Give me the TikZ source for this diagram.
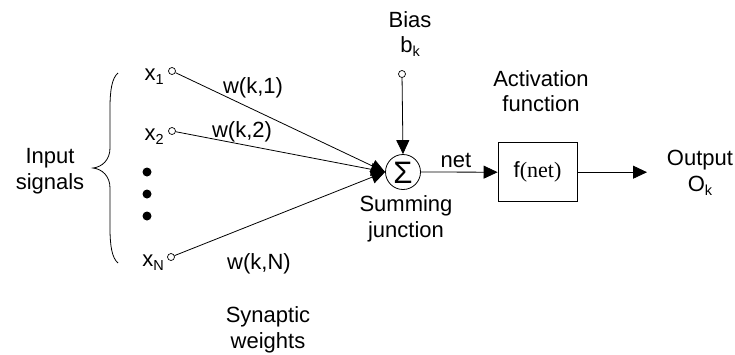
\documentclass[tikz,border=0pt]{standalone}
\usepackage{fontspec}
\setmainfont{Liberation Sans}
\newfontfamily\serifrm{Liberation Serif}
\usetikzlibrary{arrows.meta}
\newcommand{\mysub}[1]{\raisebox{-0.35ex}{\fontsize{14.5}{14.5}\selectfont #1}}
\tikzset{
  lbl/.style={font=\fontsize{22}{25.5}\selectfont, inner sep=0pt, align=center},
  term/.style={circle, draw, fill=white, inner sep=0pt, minimum size=7pt, line width=0.7pt},
  conn/.style={line width=0.8pt, -{Triangle[length=14pt,width=13pt]}},
  plain/.style={line width=0.8pt},
  dot/.style={circle, fill=black, inner sep=0pt, minimum size=9pt}
}
\begin{document}
\begin{tikzpicture}[x=1pt,y=-1pt]
\useasboundingbox (0,0) rectangle (735,354);
% input terminals
\node[term] (i1) at (172,71) {};
\node[term] (i2) at (172,131) {};
\node[term] (iN) at (171,257) {};
\node[lbl, anchor=base east] (x1) at (164,80) {x\mysub{1}};
\node[lbl, anchor=base east] (x2) at (164,140) {x\mysub{2}};
\node[lbl, anchor=base east] (xN) at (164,266) {x\mysub{N}};
% dots
\node[dot] (d1) at (147,172) {};
\node[dot] (d2) at (147,194) {};
\node[dot] (d3) at (147,216) {};
% brace
\draw[plain] (118,73) .. controls (112,78) and (110,90) .. (110,108) -- (110,148)
  .. controls (110,160) and (102,167) .. (93,168)
  .. controls (102,169) and (110,176) .. (110,188) -- (110,228)
  .. controls (110,246) and (112,258) .. (118,263);
\node[lbl] (inp) at (50,171) {Input\\signals};
% summing junction
\node[circle, draw, line width=0.8pt, minimum size=35pt, inner sep=0pt] (sum) at (403,172) {};
\node[inner sep=0pt, font=\fontsize{31}{31}\selectfont] (sig) at (403,172.5) {Σ};
\draw[conn] (i1) -- (sum.west);
\draw[conn] (i2) -- (sum.west);
\draw[conn] (iN) -- (sum.west);
\node[lbl] (w1) at (253,88) {w(k,1)};
\node[lbl] (w2) at (242,132) {w(k,2)};
\node[lbl] (wN) at (259,264) {w(k,N)};
% bias
\node[term] (bias) at (402,74) {};
\node[lbl] (biastxt) at (410,34) {Bias\\b\mysub{k}};
\draw[conn] (bias) -- (sum.north);
\node[lbl] (sumtxt) at (406,219) {Summing\\junction};
% activation
\node[draw, line width=0.8pt, minimum width=79pt, minimum height=59pt, inner sep=0pt, font=\fontsize{22}{25.5}\selectfont] (act) at (537.5,172.2) {f{\serifrm(net)}};
\draw[conn] (sum.east) -- (act.west);
\node[lbl, anchor=south] (net) at (456,168) {net};
\node[lbl] (acttxt) at (541,91) {Activation\\function};
\coordinate (outend) at (647,172.2);
\draw[conn] (act.east) -- (outend);
\node[lbl] (outtxt) at (700,173) {Output\\O\mysub{k}};
\node[lbl] (syn) at (268,330) {Synaptic\\weights};
\end{tikzpicture}
\end{document}
